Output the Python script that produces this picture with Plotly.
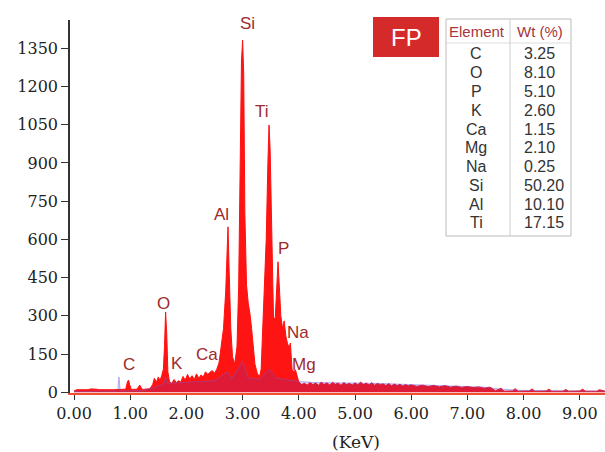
import plotly.graph_objects as go

# ---------------- data ----------------
energy_kev = [0.00, 0.05, 0.25, 0.30, 0.40, 0.45, 0.70, 0.85, 0.92, 0.95, 0.97, 0.99, 1.02,
              1.12, 1.15, 1.17, 1.19, 1.22, 1.35, 1.40, 1.43, 1.47, 1.50, 1.53, 1.56, 1.59,
              1.61, 1.63, 1.65, 1.67, 1.70, 1.74, 1.78, 1.82, 1.86, 1.90, 1.94, 1.98, 2.02,
              2.06, 2.10, 2.14, 2.18, 2.22, 2.26, 2.30, 2.34, 2.38, 2.42, 2.46, 2.50, 2.54,
              2.58, 2.62, 2.66, 2.70, 2.72, 2.74, 2.76, 2.79, 2.82, 2.86, 2.90, 2.93, 2.96,
              2.98, 3.00, 3.02, 3.04, 3.07, 3.10, 3.13, 3.16, 3.19, 3.22, 3.26, 3.30, 3.33,
              3.36, 3.39, 3.42, 3.45, 3.47, 3.49, 3.52, 3.55, 3.58, 3.61, 3.63, 3.65, 3.68,
              3.71, 3.74, 3.77, 3.80, 3.83, 3.85, 3.88, 3.91, 3.94, 3.97, 4.00, 4.05,
              4.10, 4.15, 4.20, 4.25, 4.30, 4.35, 4.40, 4.45, 4.50, 4.55, 4.60, 4.65, 4.70,
              4.75, 4.80, 4.85, 4.90, 4.95, 5.00, 5.05, 5.10, 5.15, 5.20, 5.25, 5.30, 5.35,
              5.40, 5.45, 5.50, 5.55, 5.60, 5.65, 5.70, 5.75, 5.80, 5.85, 5.90, 5.95, 6.00,
              6.10, 6.20, 6.30, 6.40, 6.50, 6.60, 6.70, 6.80, 6.90, 7.00, 7.10, 7.20, 7.30,
              7.40, 7.50, 7.60, 7.65, 7.80, 7.85, 7.90, 8.10, 8.15, 8.20, 8.40, 8.45, 8.50,
              8.70, 8.75, 8.80, 9.00, 9.05, 9.10, 9.30, 9.35, 9.45]
counts_fp = [5, 10, 10, 13, 12, 10, 10, 11, 12, 40, 48, 30, 11,
             12, 22, 28, 20, 11, 14, 30, 55, 40, 60, 45, 65, 90,
             180, 315, 230, 80, 40, 35, 50, 38, 45, 40, 62, 48, 70,
             52, 65, 50, 72, 55, 68, 60, 80, 70, 78, 85, 75, 90,
             115, 180, 250, 400, 580, 649, 480, 250, 140, 110, 180, 420, 950,
             1300, 1382, 1250, 700, 420, 350, 310, 250, 180, 110, 75, 60, 90,
             250, 420, 600, 900, 1049, 950, 560, 290, 290, 450, 512, 430, 300,
             250, 280, 220, 190, 175, 193, 90, 80, 88, 60, 40, 30,
             35, 28, 38, 30, 36, 27, 40, 30, 37, 28, 39, 31, 36,
             27, 38, 30, 35, 28, 37, 29, 40, 30, 36, 28, 38, 27,
             35, 29, 33, 26, 34, 25, 32, 26, 31, 24, 30, 25, 29,
             23, 28, 22, 27, 21, 26, 20, 24, 19, 23, 18, 21, 16,
             20, 6, 16, 4, 5, 14, 4, 5, 13, 4, 5, 12, 4,
             4, 11, 4, 5, 12, 4, 4, 10, 4]

energy_bg = [0.00, 0.75, 0.78, 0.80, 0.82, 0.85, 1.20, 1.45, 1.60, 1.63, 1.66, 2.00, 2.50,
             2.74, 2.80, 3.00, 3.10, 3.30, 3.47, 3.60, 3.80, 4.00, 4.30, 4.60, 5.00, 5.50,
             6.00, 6.50, 7.00, 7.30, 7.60, 8.00, 9.45]
counts_bg = [3, 5, 10, 60, 10, 5, 6, 20, 35, 60, 35, 40, 45,
             80, 50, 120, 55, 50, 90, 55, 50, 42, 38, 38, 36, 34,
             30, 27, 24, 20, 12, 7, 4]

x_tick_values = [0, 1, 2, 3, 4, 5, 6, 7, 8, 9]
x_tick_labels = ["0.00", "1.00", "2.00", "3.00", "4.00", "5.00", "6.00", "7.00", "8.00", "9.00"]
y_tick_values = [0, 150, 300, 450, 600, 750, 900, 1050, 1200, 1350]

peak_labels = ["Si", "Ti", "Al", "P", "O", "C", "K", "Ca", "Na", "Mg"]
peak_label_kev = [3.08, 3.35, 2.63, 3.72, 1.60, 0.98, 1.83, 2.37, 3.99, 4.09]
peak_label_cts = [1449, 1100, 696, 566, 350, 107, 111, 150, 233, 107]

table_elements = ["C", "O", "P", "K", "Ca", "Mg", "Na", "Si", "Al", "Ti"]
table_wt = ["3.25", "8.10", "5.10", "2.60", "1.15", "2.10", "0.25", "50.20", "10.10", "17.15"]

# ---------------- figure ----------------
W, H = 605, 452
ML, MR, MT, MB = 70, 0, 20, 59
PW, PH = W - ML - MR, H - MT - MB


def fx(px):
    return (px - ML) / PW


def fy(py):
    return (H - MB - py) / PH


fig = go.Figure()
fig.add_trace(go.Scatter(x=energy_kev, y=counts_fp, mode="lines",
                         line=dict(color="#ff1010", width=1),
                         fill="tozeroy", fillcolor="rgba(255,0,0,0.92)",
                         hoverinfo="skip", showlegend=False))
fig.add_trace(go.Scatter(x=energy_bg, y=counts_bg, mode="lines",
                         line=dict(color="rgba(110,90,220,0.45)", width=1),
                         fill="tozeroy", fillcolor="rgba(90,50,190,0.2)",
                         hoverinfo="skip", showlegend=False))

serif = "DejaVu Serif"
fig.update_layout(
    width=W, height=H,
    margin=dict(l=ML, r=MR, t=MT, b=MB, pad=0, autoexpand=False),
    paper_bgcolor="white", plot_bgcolor="white",
    showlegend=False,
    xaxis=dict(range=[-0.0712, 9.448], tickvals=x_tick_values, ticktext=x_tick_labels,
               automargin=False,
               showgrid=False, zeroline=False, showline=True, linecolor="#f05030",
               linewidth=1.5, ticks="outside", ticklen=5, tickcolor="#333",
               tickfont=dict(family=serif, size=16, color="#222")),
    yaxis=dict(range=[-3, 1461], tickvals=y_tick_values, automargin=False,
               showgrid=False, zeroline=False, showline=True, linecolor="#333",
               linewidth=1.5, ticks="outside", ticklen=7, tickcolor="#333",
               tickfont=dict(family=serif, size=16, color="#222")),
)

annotations = []
# peak labels
for lab, xk, yc in zip(peak_labels, peak_label_kev, peak_label_cts):
    annotations.append(dict(x=xk, y=yc, xref="x", yref="y", text=lab, showarrow=False,
                            xanchor="center", yanchor="middle",
                            font=dict(family="Liberation Sans, Arial", size=17, color="#9e2a2b"),
                            bgcolor="white" if lab == "P" else None,
                            borderpad=0))
# axis title
annotations.append(dict(x=fx(356), y=fy(442), xref="paper", yref="paper", text="(KeV)",
                        showarrow=False, xanchor="center", yanchor="middle",
                        font=dict(family=serif, size=17, color="#222")))
# FP box text
annotations.append(dict(x=fx(406), y=fy(37), xref="paper", yref="paper", text="FP",
                        showarrow=False, xanchor="center", yanchor="middle",
                        font=dict(family="Liberation Sans, Arial", size=24, color="white")))
# table header
hdr_font = dict(family="Liberation Sans, Arial", size=15, color="#a8353a")
annotations.append(dict(x=fx(477), y=fy(31), xref="paper", yref="paper", text="Element",
                        showarrow=False, xanchor="center", yanchor="middle", font=hdr_font))
annotations.append(dict(x=fx(540), y=fy(31), xref="paper", yref="paper", text="Wt (%)",
                        showarrow=False, xanchor="center", yanchor="middle", font=hdr_font))
row_font = dict(family="Liberation Sans, Arial", size=16, color="#333")
for i, (el, wt) in enumerate(zip(table_elements, table_wt)):
    yy = 54 + i * 18.75
    annotations.append(dict(x=fx(476), y=fy(yy), xref="paper", yref="paper", text=el,
                            showarrow=False, xanchor="center", yanchor="middle", font=row_font))
    annotations.append(dict(x=fx(522), y=fy(yy), xref="paper", yref="paper", text=wt,
                            showarrow=False, xanchor="left", yanchor="middle", font=row_font))
fig.update_layout(annotations=annotations)

shapes = [
    dict(type="rect", xref="paper", yref="paper", x0=fx(373), x1=fx(439), y0=fy(57), y1=fy(17),
         fillcolor="#d42a2a", line=dict(width=0), layer="above"),
    dict(type="rect", xref="paper", yref="paper", x0=fx(446), x1=fx(571), y0=fy(236), y1=fy(19),
         fillcolor="white", line=dict(color="#bbbbbb", width=1), layer="below"),
    dict(type="line", xref="paper", yref="paper", x0=fx(446), x1=fx(571), y0=fy(43), y1=fy(43),
         line=dict(color="#dddddd", width=1)),
    dict(type="line", xref="paper", yref="paper", x0=fx(510), x1=fx(510), y0=fy(19), y1=fy(236),
         line=dict(color="#cccccc", width=1)),
]
fig.update_layout(shapes=shapes)

fig.write_html("out.html", config={"displayModeBar": False},
               post_script="document.body.style.margin='0px';document.body.style.overflow='hidden';")
